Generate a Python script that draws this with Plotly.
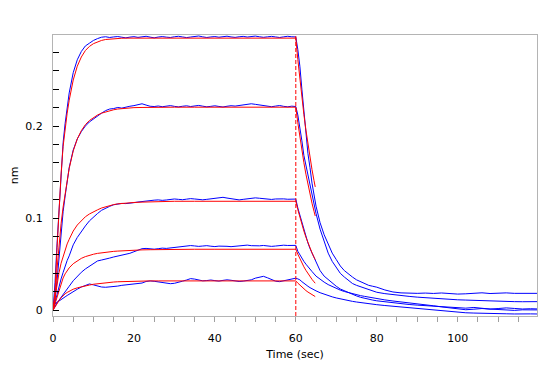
import plotly.graph_objects as go

# ---------------- data ----------------
dissociation_start = 60

t_assoc = [0, 0.5, 1, 1.5, 2, 2.5, 3, 3.5, 4,
           5, 6, 7, 8, 9, 10, 11, 12, 13, 14,
           15, 16, 17, 18, 19, 20, 21, 22, 23, 24,
           25, 26, 27, 28, 29, 30, 31, 32, 33, 34,
           35, 36, 37, 38, 39, 40, 41, 42, 43, 44,
           45, 46, 47, 48, 49, 50, 51, 52, 53, 54,
           55, 56, 57, 58, 59, 60]
t_dissoc = [60.5, 61, 61.5, 62, 62.5, 63, 63.5, 64,
            65, 66, 67, 68, 69, 70, 71, 72, 73, 74, 75, 76, 77, 78, 79, 80,
            82, 84, 86, 88, 90, 92, 94, 96, 98, 100, 102, 104, 106, 108, 110, 112, 114, 116, 118,
            119.6]

t_fit_assoc = [0, 0.5, 1, 1.5, 2, 2.5, 3, 3.5, 4,
               5, 6, 7, 8, 9, 10, 11, 12, 13, 14, 15, 16, 17, 18, 19, 20,
               22, 24, 26, 28, 30,
               35, 40, 45, 50, 55, 60]
t_fit_dissoc = [60.5, 61, 61.5, 62, 62.5, 63, 63.5, 64, 64.5, 64.8]

# measured (blue) sensorgrams
blue1_assoc = [0.0, 0.03, 0.072, 0.112, 0.148, 0.182, 0.203, 0.222, 0.236,
               0.258, 0.272, 0.281, 0.287, 0.29, 0.293, 0.295, 0.2965, 0.297, 0.2962,
               0.2968, 0.2972, 0.2965, 0.2958, 0.2966, 0.2971, 0.2963, 0.2969, 0.2975, 0.2966,
               0.2958, 0.2967, 0.2972, 0.2966, 0.2962, 0.297, 0.2975, 0.2968, 0.2961, 0.2967,
               0.2973, 0.2978, 0.2969, 0.2962, 0.2968, 0.2972, 0.2965, 0.2971, 0.2976, 0.2968,
               0.2963, 0.297, 0.2974, 0.2967, 0.2972, 0.2977, 0.297, 0.2964, 0.2969, 0.2974,
               0.2968, 0.2962, 0.2969, 0.2975, 0.297, 0.2968]
blue1_dissoc = [0.283, 0.265, 0.24, 0.215, 0.19, 0.17, 0.155, 0.138,
                0.113, 0.095, 0.082, 0.071, 0.062, 0.055, 0.048, 0.043, 0.039, 0.036, 0.033, 0.031, 0.029, 0.027, 0.026, 0.025,
                0.022, 0.0198, 0.0188, 0.0184, 0.0183, 0.0186, 0.0182, 0.0187, 0.0181, 0.0175, 0.0178, 0.0186, 0.0189, 0.0181, 0.0185, 0.0188, 0.0183, 0.0185, 0.0184,
                0.0183]

blue2_assoc = [0.0, 0.012, 0.032, 0.058, 0.086, 0.107, 0.124, 0.14, 0.155,
               0.174, 0.186, 0.194, 0.2, 0.2045, 0.208, 0.2115, 0.214, 0.2168, 0.2185,
               0.219, 0.2202, 0.2195, 0.2208, 0.2215, 0.2222, 0.2235, 0.2242, 0.2228, 0.2215,
               0.2212, 0.2218, 0.221, 0.2216, 0.2222, 0.2214, 0.2208, 0.2215, 0.222, 0.2212,
               0.2218, 0.2224, 0.2216, 0.2209, 0.2214, 0.222, 0.2213, 0.2207, 0.2215, 0.2221,
               0.2217, 0.2224, 0.2229, 0.2235, 0.2242, 0.2236, 0.2228, 0.2222, 0.2215, 0.221,
               0.2217, 0.2223, 0.2214, 0.2209, 0.2216, 0.2212]
blue2_dissoc = [0.212, 0.199, 0.184, 0.168, 0.157, 0.146, 0.136, 0.126,
                0.105, 0.088, 0.074, 0.062, 0.053, 0.046, 0.04, 0.036, 0.032, 0.029, 0.027, 0.0255, 0.024, 0.0225, 0.021, 0.0195,
                0.018, 0.0168, 0.0158, 0.015, 0.0142, 0.0135, 0.013, 0.0125, 0.012, 0.0113, 0.011, 0.0106, 0.0102, 0.0098, 0.0095, 0.0097, 0.0093, 0.0092, 0.0094,
                0.0093]

blue3_assoc = [0.0, 0.009, 0.017, 0.026, 0.034, 0.041, 0.048, 0.054, 0.059,
               0.071, 0.079, 0.086, 0.0915, 0.097, 0.1015, 0.105, 0.1085, 0.111, 0.1128,
               0.1145, 0.1155, 0.116, 0.1158, 0.116, 0.1168, 0.1175, 0.1182, 0.1188, 0.1192,
               0.1195, 0.1198, 0.1193, 0.1197, 0.1203, 0.1208, 0.1204, 0.12, 0.1206, 0.1212,
               0.1208, 0.1203, 0.1199, 0.1204, 0.121, 0.1216, 0.1222, 0.1226, 0.1218, 0.121,
               0.1202, 0.1198, 0.1204, 0.121, 0.1215, 0.122, 0.1216, 0.1211, 0.1206, 0.1203,
               0.1208, 0.1212, 0.1209, 0.1205, 0.121, 0.1207]
blue3_dissoc = [0.111, 0.103, 0.095, 0.086, 0.079, 0.073, 0.067, 0.062,
                0.051, 0.043, 0.037, 0.033, 0.029, 0.026, 0.023, 0.021, 0.019, 0.017, 0.0155, 0.014, 0.0128, 0.0118, 0.011, 0.0102,
                0.009, 0.0078, 0.007, 0.0062, 0.0055, 0.005, 0.0042, 0.0038, 0.0031, 0.0026, 0.0022, 0.003, 0.0021, 0.0012, 0.0018, 0.0025, 0.0019, 0.0013, 0.0016,
                0.0014]

blue4_assoc = [0.0, 0.005, 0.008, 0.011, 0.0138, 0.017, 0.02, 0.023, 0.026,
               0.032, 0.0372, 0.0412, 0.0448, 0.048, 0.0512, 0.0535, 0.0545, 0.0553, 0.0566,
               0.0578, 0.0588, 0.0598, 0.0605, 0.0618, 0.0635, 0.0655, 0.0668, 0.0671, 0.0666,
               0.0663, 0.0668, 0.0674, 0.0671, 0.0676, 0.0682, 0.0686, 0.0692, 0.0696, 0.0702,
               0.0698, 0.0693, 0.0697, 0.0701, 0.0695, 0.0691, 0.0696, 0.0699, 0.0694, 0.069,
               0.0695, 0.07, 0.0704, 0.0707, 0.0701, 0.0696, 0.0699, 0.0703, 0.0698, 0.0693,
               0.0697, 0.0702, 0.0706, 0.0703, 0.0707, 0.0704]
blue4_dissoc = [0.064, 0.06, 0.057, 0.053, 0.05, 0.047, 0.0445, 0.042,
                0.037, 0.0335, 0.0305, 0.0278, 0.0255, 0.0235, 0.0218, 0.0203, 0.019, 0.0178, 0.0168, 0.0158, 0.015, 0.0141, 0.0133, 0.0126,
                0.0112, 0.01, 0.0088, 0.0078, 0.007, 0.0058, 0.0048, 0.0036, 0.0025, 0.0012, 0.0005, 0.0011, 0.0018, 0.0012, 0.0008, 0.0004, -0.0002, 0.0004, 0.0002,
                0.0003]

blue5_assoc = [0.0, 0.007, 0.0085, 0.0098, 0.011, 0.0128, 0.0145, 0.016, 0.0175,
               0.0205, 0.0228, 0.0252, 0.0272, 0.0285, 0.0275, 0.0262, 0.0252, 0.0249, 0.0251,
               0.0255, 0.0262, 0.027, 0.0276, 0.0279, 0.0282, 0.0288, 0.0295, 0.0312, 0.0318,
               0.0314, 0.0308, 0.0302, 0.0293, 0.0288, 0.0292, 0.0301, 0.0315, 0.0328, 0.0343,
               0.0338, 0.0326, 0.0319, 0.0322, 0.0328, 0.0321, 0.0316, 0.0324, 0.033, 0.0325,
               0.0318, 0.0312, 0.0316, 0.0322, 0.033, 0.0348, 0.0362, 0.0368, 0.0352, 0.0331,
               0.0315, 0.031, 0.0318, 0.0326, 0.0341, 0.0348]
blue5_dissoc = [0.034, 0.033, 0.031, 0.029, 0.0275, 0.026, 0.0245, 0.023,
                0.021, 0.019, 0.0172, 0.0158, 0.0145, 0.0133, 0.0122, 0.0113, 0.0104, 0.0096, 0.0089, 0.0082, 0.0076, 0.007, 0.0065, 0.006,
                0.0051, 0.0043, 0.0035, 0.0026, 0.0018, 0.0008, 0.0002, -0.0008, -0.0016, -0.0022, -0.0028, -0.0031, -0.0035, -0.0038, -0.0036, -0.0039, -0.0041, -0.0038, -0.004,
                -0.0041]

# fitted (red) curves
red1_assoc = [0.0, 0.02, 0.068, 0.11, 0.148, 0.178, 0.198, 0.214, 0.228,
              0.25, 0.265, 0.275, 0.282, 0.2865, 0.2895, 0.2915, 0.293, 0.294, 0.2945, 0.295, 0.2953, 0.2954, 0.2955, 0.2955, 0.2955,
              0.2955, 0.2955, 0.2955, 0.2955, 0.2955,
              0.2955, 0.2955, 0.2955, 0.2955, 0.2955, 0.2955]
red1_dissoc = [0.2721, 0.2506, 0.2307, 0.2124, 0.1956, 0.1801, 0.1659, 0.1527, 0.1407, 0.1339]

red2_assoc = [0.0, 0.012, 0.045, 0.072, 0.094, 0.112, 0.127, 0.141, 0.154,
              0.173, 0.186, 0.195, 0.2015, 0.206, 0.2095, 0.212, 0.214, 0.2155, 0.2167, 0.2177, 0.2185, 0.219, 0.2195, 0.2198, 0.22,
              0.2202, 0.2204, 0.2205, 0.2205, 0.2205,
              0.2205, 0.2205, 0.2205, 0.2205, 0.2205, 0.2205]
red2_dissoc = [0.2035, 0.1879, 0.1735, 0.1601, 0.1477, 0.1365, 0.1259, 0.1162, 0.1074, 0.1023]

red3_assoc = [0.0, 0.014, 0.029, 0.041, 0.051, 0.059, 0.066, 0.072, 0.077,
              0.086, 0.0925, 0.0975, 0.1015, 0.1045, 0.107, 0.109, 0.111, 0.1125, 0.1137, 0.1147, 0.1155, 0.116, 0.1165, 0.1168, 0.117,
              0.1174, 0.1178, 0.118, 0.1182, 0.1183,
              0.1183, 0.1183, 0.1183, 0.1183, 0.1183, 0.1183]
red3_dissoc = [0.1092, 0.1008, 0.0931, 0.0859, 0.0793, 0.0732, 0.0675, 0.0623, 0.0576, 0.0549]

red4_assoc = [0.0, 0.007, 0.016, 0.023, 0.03, 0.035, 0.0395, 0.043, 0.046,
              0.0505, 0.0538, 0.0563, 0.0582, 0.0597, 0.0608, 0.0617, 0.0624, 0.063, 0.0635, 0.0639, 0.0642, 0.0645, 0.0647, 0.0649, 0.0651,
              0.0655, 0.0657, 0.0659, 0.0661, 0.0662,
              0.0662, 0.0662, 0.0662, 0.0662, 0.0662, 0.0662]
red4_dissoc = [0.0608, 0.0558, 0.0513, 0.0471, 0.0433, 0.0397, 0.0365, 0.0335, 0.0308, 0.0293]

red5_assoc = [0.0, 0.004, 0.0075, 0.0105, 0.0135, 0.016, 0.0178, 0.0193, 0.0206,
              0.0228, 0.0243, 0.0255, 0.0265, 0.0273, 0.0282, 0.0288, 0.0294, 0.0299, 0.0303, 0.0306, 0.0309, 0.0311, 0.0313, 0.0314, 0.0315,
              0.0317, 0.0318, 0.0318, 0.0318, 0.0318,
              0.0318, 0.0318, 0.0318, 0.0318, 0.0318, 0.0318]
red5_dissoc = [0.0294, 0.0271, 0.025, 0.0231, 0.0213, 0.0197, 0.0182, 0.0168, 0.0155, 0.0148]

x_tick_values = [0, 20, 40, 60, 80, 100]
y_tick_values = [0, 0.1, 0.2]
y_tick_labels = ["0", "0.1", "0.2"]

# ---------------- figure ----------------
BLUE = "#0000ff"
RED = "#ff0000"
FRAME = "#b4b4b4"

fig = go.Figure()

measured = [(blue1_assoc, blue1_dissoc), (blue2_assoc, blue2_dissoc), (blue3_assoc, blue3_dissoc),
            (blue4_assoc, blue4_dissoc), (blue5_assoc, blue5_dissoc)]
fitted = [(red1_assoc, red1_dissoc), (red2_assoc, red2_dissoc), (red3_assoc, red3_dissoc),
          (red4_assoc, red4_dissoc), (red5_assoc, red5_dissoc)]

for a, d in measured:
    fig.add_trace(go.Scatter(x=t_assoc + t_dissoc, y=a + d, mode="lines",
                             line=dict(color=BLUE, width=1), hoverinfo="skip"))
for a, d in fitted:
    fig.add_trace(go.Scatter(x=t_fit_assoc + t_fit_dissoc, y=a + d, mode="lines",
                             line=dict(color=RED, width=1), hoverinfo="skip"))

fig.add_shape(type="line", xref="x", yref="paper",
              x0=dissociation_start, x1=dissociation_start, y0=0, y1=1,
              line=dict(color=RED, width=1, dash="4px,2px"))

# the page body adds an 8px offset, so the figure is sized/margined to compensate
fig.update_layout(
    width=539, height=358,
    margin=dict(l=45, r=10, t=27, b=50, autoexpand=False),
    plot_bgcolor="white", paper_bgcolor="white",
    showlegend=False,
    font=dict(family="DejaVu Sans", size=11, color="black"),
)

fig.update_xaxes(
    range=[0, 119.6], automargin=False,
    tickmode="array", tickvals=x_tick_values,
    ticks="outside", ticklen=5, tickwidth=1, tickcolor="#a0a0a0",
    minor=dict(dtick=5, tick0=0, ticks="outside", ticklen=5, tickwidth=1, tickcolor="#a0a0a0"),
    showline=True, linecolor=FRAME, linewidth=1, mirror=True,
    showgrid=False, zeroline=False,
    ticklabelstandoff=7,
    title=dict(text="Time (sec)", standoff=6, font=dict(size=11)),
)
fig.update_yaxes(
    range=[-0.0063, 0.2989], automargin=False,
    tickmode="array", tickvals=y_tick_values, ticktext=y_tick_labels,
    ticks="inside", ticklen=6, tickwidth=1, tickcolor="black",
    minor=dict(dtick=0.02, tick0=0, ticks="inside", ticklen=6, tickwidth=1, tickcolor="black"),
    showline=True, linecolor=FRAME, linewidth=1, mirror=True,
    showgrid=False, zeroline=False,
    ticklabelstandoff=7,
    title=dict(text="nm", standoff=10, font=dict(size=11)),
)

fig.write_html("out.html")
